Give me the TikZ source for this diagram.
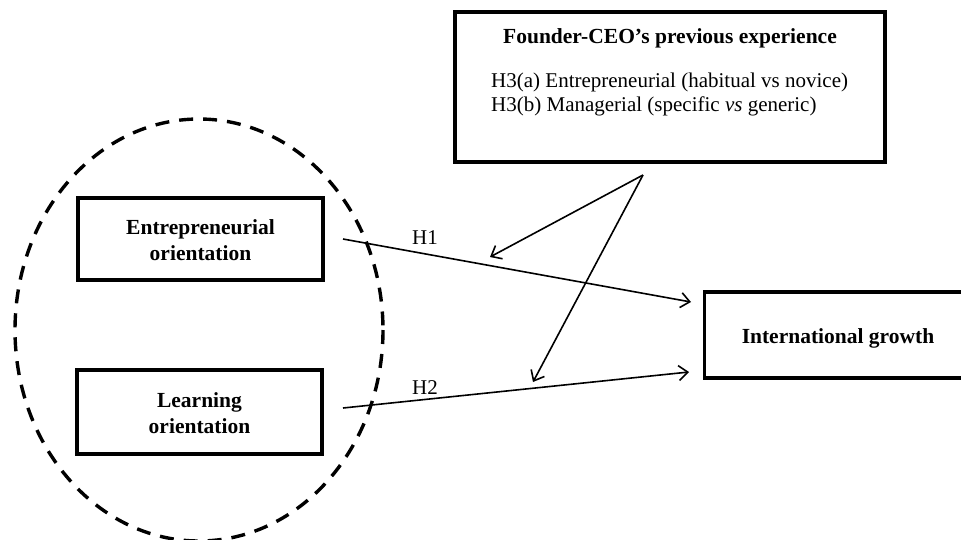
\documentclass[tikz,border=0pt]{standalone}
\usepackage{fontspec}
\setmainfont{Liberation Serif}
\usetikzlibrary{arrows.meta}
\begin{document}
\begin{tikzpicture}[x=1pt,y=-1pt,
  box/.style={draw,line width=3.2pt,inner sep=0pt},
  boxtxt/.style={align=center,inner sep=0pt,font=\fontsize{21.5}{26}\selectfont\bfseries},
  arr/.style={line width=1.6pt,-{Straight Barb[length=9pt,width=15pt,line width=1.6pt]}},
  lab/.style={inner sep=0pt,anchor=base,font=\fontsize{21}{24.5}\selectfont}]
\useasboundingbox (0,0) rectangle (961,539);
\draw[line width=3.4pt,dash pattern=on 14pt off 10pt] (199,330) ellipse [x radius=184, y radius=211];
\node[box,minimum width=245pt,minimum height=82pt] (eo) at (200.5,239) {};
\node[boxtxt] (eot) at (200.5,240) {Entrepreneurial\\orientation};
\node[box,minimum width=245pt,minimum height=84pt] (lo) at (199.5,412) {};
\node[boxtxt] (lot) at (199.5,413) {Learning\\orientation};
\node[box,minimum width=300pt,minimum height=86pt,anchor=west] (ig) at (703,335) {};
\node[boxtxt,anchor=base] (igt) at (838,343) {International growth};
\node[box,minimum width=430pt,minimum height=150pt] (fc) at (670,87) {};
\node[boxtxt,anchor=base] (fct) at (670,43) {Founder-CEO’s previous experience};
\node[lab,anchor=base west] (h3a) at (491,87) {H3(a) Entrepreneurial (habitual vs novice)};
\node[lab,anchor=base west] (h3b) at (491,111) {H3(b) Managerial (specific \textit{vs} generic)};
\coordinate (s1) at (343,239);
\coordinate (e1) at (691,302);
\coordinate (s2) at (343,408);
\coordinate (e2) at (689,372);
\coordinate (m) at (643,175);
\coordinate (m1) at (490,257);
\coordinate (m2) at (533,382);
\draw[arr] (s1) -- (e1);
\draw[arr] (s2) -- (e2);
\draw[arr] (m) -- (m1);
\draw[arr] (m) -- (m2);
\node[lab] (h1) at (425,244) {H1};
\node[lab] (h2) at (425,394) {H2};
\end{tikzpicture}
\end{document}
